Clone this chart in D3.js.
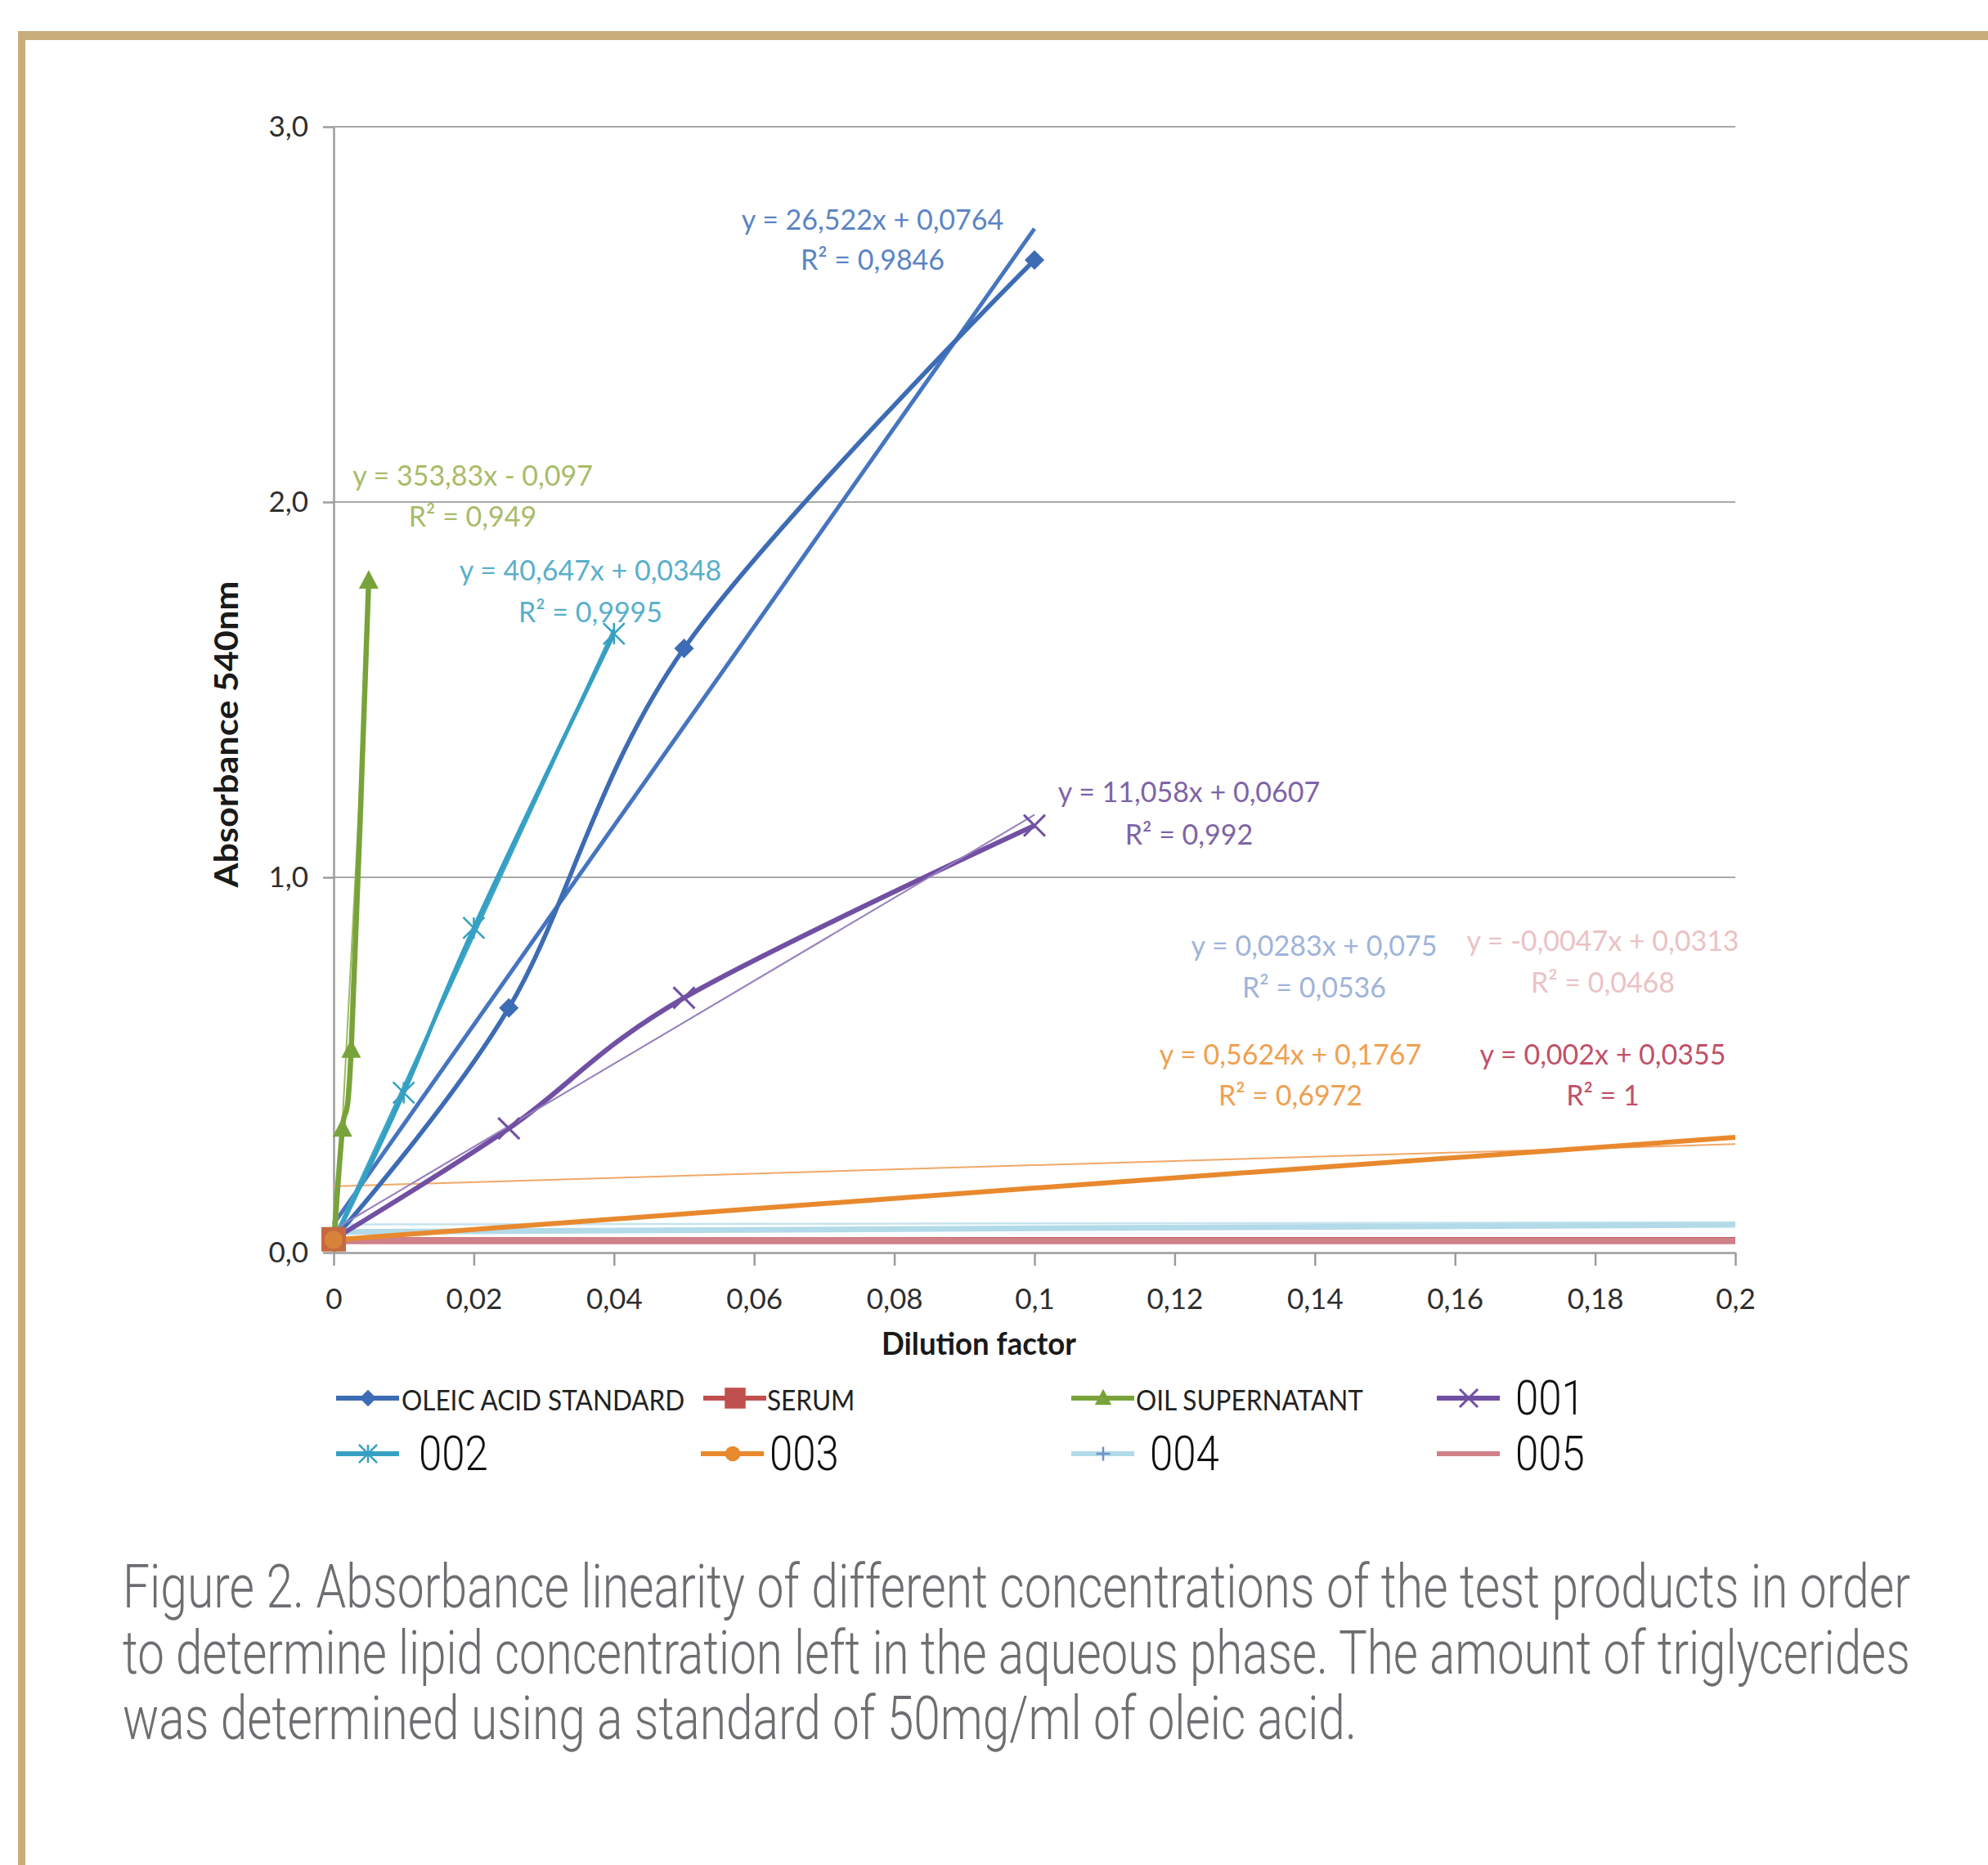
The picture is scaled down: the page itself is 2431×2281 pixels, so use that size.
<!DOCTYPE html>
<html><head><meta charset="utf-8">
<script src="https://cdn.jsdelivr.net/npm/d3@7"></script>
<style>body{margin:0;background:#fff} svg{display:block}</style>
</head><body>
<script>
// ---------------- DATA ----------------
const xTicks = [0, 0.02, 0.04, 0.06, 0.08, 0.1, 0.12, 0.14, 0.16, 0.18, 0.2];
const yTicks = [0, 1, 2, 3];
const seriesNames = ["OLEIC ACID STANDARD", "SERUM", "OIL SUPERNATANT", "001", "002", "003", "004", "005"];

const oleicX = [0, 0.025, 0.05, 0.1];
const oleicY = [0.036, 0.652, 1.61, 2.645];
const serumX = [0, 0.2];
const serumY = [0.0355, 0.0359];
const oilX = [0, 0.00125, 0.0025, 0.005];
const oilY = [0.026, 0.33, 0.54, 1.79];
const s001X = [0, 0.025, 0.05, 0.1];
const s001Y = [0.036, 0.331, 0.679, 1.138];
const s002X = [0, 0.01, 0.02, 0.04];
const s002Y = [0.029, 0.426, 0.865, 1.649];
const s003X = [0, 0.1, 0.2];
const s003Y = [0.034, 0.172, 0.307];
const s004X = [0, 0.2];
const s004Y = [0.055, 0.074];
const s005X = [0, 0.2];
const s005Y = [0.031, 0.031];

// linear trendline coefficients and R² as printed on the chart
const trendSlopes     = [26.522, 0.002, 353.83, 11.058, 40.647, 0.5624, 0.0283, -0.0047];
const trendIntercepts = [0.0764, 0.0355, -0.097, 0.0607, 0.0348, 0.1767, 0.075, 0.0313];
const trendR2         = [0.9846, 1, 0.949, 0.992, 0.9995, 0.6972, 0.0536, 0.0468];

const captionLines = [
  "Figure 2. Absorbance linearity of different concentrations of the test products in order",
  "to determine lipid concentration left in the aqueous phase. The amount of triglycerides",
  "was determined using a standard of 50mg/ml of oleic acid."
];

// ---------------- STYLE / LAYOUT ----------------
const W = 2431, H = 2281;
const seriesX = [oleicX, serumX, oilX, s001X, s002X, s003X, s004X, s005X];
const seriesY = [oleicY, serumY, oilY, s001Y, s002Y, s003Y, s004Y, s005Y];
const style = [
  {color:"#3D6CB4", trend:"#4675C0", tw:5,   label:"#5B84C4", lw:5.5, marker:"diamond", mIdx:[1,2,3], lab:[1067,281,330], legend:[411,1710,491,"cal"]},
  {color:"#C0504D", trend:"#C0504D", tw:2,   label:"#C05068", lw:5,   marker:"square",  mIdx:[0],     lab:[1960,1302,1352], legend:[860,1710,938,"cal"]},
  {color:"#78A33A", trend:"#9BBB59", tw:2,   label:"#A9BB68", lw:6.5, marker:"triangle",mIdx:[1,2,3], lab:[578,594,644], legend:[1310,1710,1389,"cal"]},
  {color:"#7150A3", trend:"#9A84BE", tw:1.8, label:"#7D64A6", lw:6,   marker:"x",       mIdx:[1,2,3], lab:[1454,981,1033], legend:[1757,1710,1853,"hel"]},
  {color:"#35A0C3", trend:"#3FA6C7", tw:4,   label:"#5AAFCB", lw:5,   marker:"star",    mIdx:[1,2,3], lab:[722,710,761], legend:[411,1778,512,"hel"]},
  {color:"#E8892E", trend:"#F2A868", tw:2,   label:"#F0A050", lw:6,   marker:"circle",  mIdx:[0],     lab:[1578,1302,1352], legend:[857,1778,941,"hel"]},
  {color:"#B2DAE8", trend:"#C6E3EE", tw:2.5, label:"#9FB4DA", lw:7,   marker:"plus",    mIdx:[],      lab:[1607,1169,1220], legend:[1310,1778,1406,"hel"]},
  {color:"#CF8088", trend:"#DDA0A4", tw:2,   label:"#EBC2C4", lw:8,   marker:"none",    mIdx:[],      lab:[1960,1163,1214], legend:[1757,1778,1853,"hel"]}
];

const fmt = v => String(v).replace(".", ",");

const svg = d3.select("body").append("svg").attr("width", W).attr("height", H);
svg.append("rect").attr("width", W).attr("height", H).attr("fill", "#fff");

// gold frame
svg.append("rect").attr("x", 22).attr("y", 38).attr("width", W - 22).attr("height", 11).attr("fill", "#C9AD7B");
svg.append("rect").attr("x", 22).attr("y", 38).attr("width", 9).attr("height", H - 38).attr("fill", "#C9AD7B");

const x = d3.scaleLinear().domain([0, 0.2]).range([408, 2122]);
const y = d3.scaleLinear().domain([0, 3]).range([1532, 155]);

const calFont = "Lato, 'Open Sans', sans-serif";
const helFont = "Roboto, 'Liberation Sans', sans-serif";

function condense(sel, k) {
  sel.each(function () {
    const L = this.getComputedTextLength();
    d3.select(this).attr("textLength", L * k).attr("lengthAdjust", "spacingAndGlyphs");
  });
}

// gridlines
svg.append("g").selectAll("line").data(yTicks.filter(t => t > 0)).join("line")
  .attr("x1", x(0)).attr("x2", x(0.2)).attr("y1", d => y(d)).attr("y2", d => y(d))
  .attr("stroke", "#A8A8A8").attr("stroke-width", 2);

// axes
const yAxis = svg.append("g").attr("transform", `translate(${x(0)},0)`)
  .call(d3.axisLeft(y).tickValues(yTicks).tickSize(13).tickSizeOuter(0).tickPadding(18)
    .tickFormat(d => d.toFixed(1).replace(".", ",")));
const xAxis = svg.append("g").attr("transform", `translate(0,${y(0)})`)
  .call(d3.axisBottom(x).tickValues(xTicks).tickSize(16).tickSizeOuter(0).tickPadding(28)
    .tickFormat(fmt));
[yAxis, xAxis].forEach(a => {
  a.select(".domain").attr("stroke", "#9C9C9C").attr("stroke-width", 2.5);
  a.selectAll(".tick line").attr("stroke", "#9C9C9C").attr("stroke-width", 2.5);
  a.selectAll("text").attr("font-family", calFont).attr("font-size", 35).attr("fill", "#2e2e2e");
});

// axis titles
svg.append("text").text("Absorbance 540nm")
  .attr("transform", "translate(291,898) rotate(-90)").attr("text-anchor", "middle")
  .attr("font-family", calFont).attr("font-weight", "bold").attr("font-size", 41).attr("fill", "#1a1a1a")
  .attr("textLength", 375).attr("lengthAdjust", "spacingAndGlyphs");
svg.append("text").text("Dilution factor")
  .attr("x", 1197).attr("y", 1657).attr("text-anchor", "middle")
  .attr("font-family", calFont).attr("font-weight", "bold").attr("font-size", 38).attr("fill", "#1a1a1a")
  .attr("textLength", 238).attr("lengthAdjust", "spacingAndGlyphs");

// plot clip
svg.append("clipPath").attr("id", "plot").append("rect")
  .attr("x", x(0) - 20).attr("y", y(3)).attr("width", x(0.2) - x(0) + 20).attr("height", y(0) - y(3));

// marker helper
function marker(g, type, cx, cy, color, s) {
  const h = s / 2;
  if (type === "diamond") g.append("path").attr("d", `M${cx},${cy - h}L${cx + h},${cy}L${cx},${cy + h}L${cx - h},${cy}Z`).attr("fill", color);
  else if (type === "square") g.append("rect").attr("x", cx - h).attr("y", cy - h).attr("width", s).attr("height", s).attr("fill", color);
  else if (type === "triangle") g.append("path").attr("d", `M${cx},${cy - h * 1.1}L${cx + h},${cy + h * 0.8}L${cx - h},${cy + h * 0.8}Z`).attr("fill", color);
  else if (type === "circle") g.append("circle").attr("cx", cx).attr("cy", cy).attr("r", h).attr("fill", color);
  else if (type === "x") g.append("path").attr("d", `M${cx - h},${cy - h}L${cx + h},${cy + h}M${cx - h},${cy + h}L${cx + h},${cy - h}`).attr("stroke", color).attr("stroke-width", 3).attr("fill", "none");
  else if (type === "star") g.append("path").attr("d", `M${cx - h},${cy - h}L${cx + h},${cy + h}M${cx - h},${cy + h}L${cx + h},${cy - h}M${cx},${cy - h}L${cx},${cy + h}`).attr("stroke", color).attr("stroke-width", 2.5).attr("fill", "none");
  else if (type === "plus") g.append("path").attr("d", `M${cx - h},${cy}L${cx + h},${cy}M${cx},${cy - h}L${cx},${cy + h}`).attr("stroke", "#6F93C8").attr("stroke-width", 2.5).attr("fill", "none");
}

const plot = svg.append("g").attr("clip-path", "url(#plot)");
const line = d3.line().x(d => x(d[0])).y(d => y(d[1])).curve(d3.curveCatmullRom.alpha(0));
const drawOrder = [6, 1, 7, 5, 0, 2, 3, 4];

// trendlines (under the series)
drawOrder.forEach(i => {
  const ext = d3.extent(seriesX[i]);
  const pts = ext.map(v => [v, trendSlopes[i] * v + trendIntercepts[i]]);
  plot.append("path").datum(pts).attr("d", d3.line().x(d => x(d[0])).y(d => y(d[1])))
    .attr("fill", "none").attr("stroke", style[i].trend).attr("stroke-width", style[i].tw);
});
// series lines
drawOrder.forEach(i => {
  const pts = seriesX[i].map((v, j) => [v, seriesY[i][j]]);
  plot.append("path").datum(pts).attr("d", line).attr("fill", "none")
    .attr("stroke", style[i].color).attr("stroke-width", style[i].lw).attr("stroke-linejoin", "round");
});
// purple trendline is visible over its series
{
  const i = 3, ext = d3.extent(seriesX[i]);
  plot.append("path").datum(ext.map(v => [v, trendSlopes[i] * v + trendIntercepts[i]]))
    .attr("d", d3.line().x(d => x(d[0])).y(d => y(d[1])))
    .attr("fill", "none").attr("stroke", style[i].trend).attr("stroke-width", style[i].tw);
}
// markers
const mg = svg.append("g");
const mSize = {diamond: 24, square: 30, triangle: 24, x: 26, star: 26, circle: 22, plus: 20};
[1, 5, 0, 2, 3, 4, 6, 7].forEach(i => {
  style[i].mIdx.forEach(j => marker(mg, style[i].marker, x(seriesX[i][j]), y(seriesY[i][j]),
    i === 5 ? "#D9823A" : (i === 1 ? "#C46A3E" : style[i].color), mSize[style[i].marker]));
});

// equation labels
const lg = svg.append("g").attr("font-family", calFont).attr("font-size", 34).attr("text-anchor", "middle");
seriesNames.forEach((n, i) => {
  const m = trendSlopes[i], b = trendIntercepts[i];
  const eq = `y = ${fmt(m)}x ${b < 0 ? "-" : "+"} ${fmt(Math.abs(b))}`;
  const [cx, b1, b2] = style[i].lab;
  lg.append("text").attr("x", cx).attr("y", b1).attr("fill", style[i].label).text(eq);
  lg.append("text").attr("x", cx).attr("y", b2).attr("fill", style[i].label).text(`R² = ${fmt(trendR2[i])}`);
});

// legend
const leg = svg.append("g");
seriesNames.forEach((n, i) => {
  const [lx, ly, tx, f] = style[i].legend;
  leg.append("line").attr("x1", lx).attr("x2", lx + 77).attr("y1", ly).attr("y2", ly)
    .attr("stroke", style[i].color).attr("stroke-width", 6);
  if (style[i].marker !== "none") marker(leg, style[i].marker, lx + 39, ly, style[i].color, mSize[style[i].marker] * 0.85);
  if (f === "cal") {
    const t = leg.append("text").attr("x", tx).attr("y", ly + 15).text(n)
      .attr("font-family", calFont).attr("font-size", 35).attr("fill", "#222");
    condense(t, 0.9);
  } else {
    const t = leg.append("text").attr("x", tx).attr("y", ly + 20).text(n)
      .attr("font-family", helFont).attr("font-weight", 300).attr("font-size", 60).attr("fill", "#111");
    condense(t, 0.85);
  }
});

// caption: natural glyphs, horizontally condensed with a transform to the measured line widths
const capW = [2186, 2186, 1509];
const capB = [1966, 2047, 2127];
captionLines.forEach((c, i) => {
  const g = svg.append("g");
  const t = g.append("text").attr("x", 0).attr("y", 0).text(c)
    .attr("font-family", helFont).attr("font-weight", 300).attr("font-size", 74).attr("fill", "#6D6E71");
  const L = t.node().getComputedTextLength();
  g.attr("transform", `translate(150,${capB[i]}) scale(${capW[i] / L},1)`);
});
</script>
</body></html>
